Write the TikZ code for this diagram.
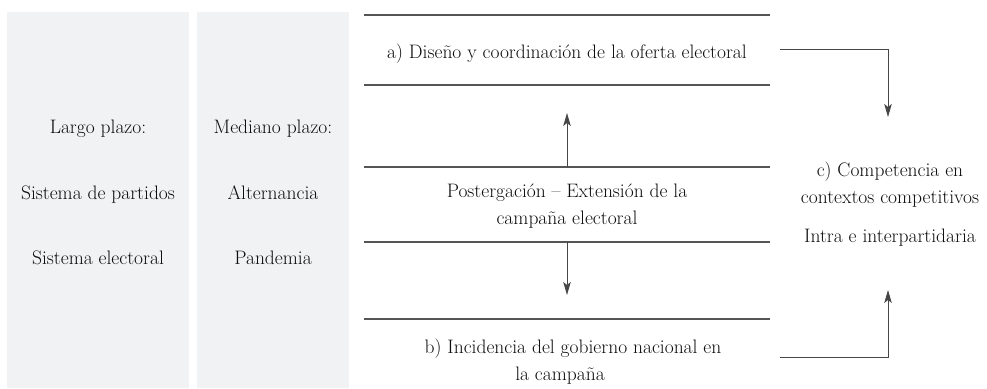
\documentclass[tikz,border=0pt]{standalone}
\usepackage{fontspec}
\usetikzlibrary{arrows.meta}
\definecolor{panelgray}{RGB}{241,242,244}
\definecolor{rulegray}{RGB}{85,85,85}
\definecolor{conngray}{RGB}{70,70,70}
\tikzset{
  panel/.style={fill=panelgray,draw=none},
  rule/.style={draw=rulegray,line width=1.6pt},
  conn/.style={draw=conngray,line width=0.8pt,-{Stealth[length=13pt,width=7.5pt,inset=3pt]}},
  lbl/.style={inner sep=0pt,align=center,font=\fontsize{19.5}{27}\selectfont,text=black!95}
}

\begin{document}
\begin{tikzpicture}[x=1pt,y=-1pt]
      \useasboundingbox (0,0) rectangle (987,388);
      \begin{scope}
        \fill[panel] (7,12) rectangle (189,388);
        \fill[panel] (197,12) rectangle (349,388);
      \end{scope}
      \foreach \y in {15,85,167,242,319}
        \draw[rule] (364,\y) -- (770,\y);
      \node[lbl,anchor=base] (largo) at (98,133) {Largo plazo:};
      \node[lbl,anchor=base] (partidos) at (98,199) {Sistema de partidos};
      \node[lbl,anchor=base] (electoral) at (98,264) {Sistema electoral};
      \node[lbl,anchor=base] (mediano) at (273,133) {Mediano plazo:};
      \node[lbl,anchor=base] (alternancia) at (273,199) {Alternancia};
      \node[lbl,anchor=base] (pandemia) at (273,264) {Pandemia};
      \node[lbl,anchor=base] (oferta) at (567,58) {a) Diseño y coordinación de la oferta electoral};
      \node[lbl,anchor=base] (postergacion) at (567,224) {Postergación -- Extensión de la\\campaña electoral};
      \node[lbl,anchor=base] (gobierno) at (573,380) {b) Incidencia del gobierno nacional en\\la campaña\hspace*{26pt}};
      \node[lbl,anchor=base] (competencia) at (890,203) {c) Competencia en\\contextos competitivos};
      \node[lbl,anchor=base] (intra) at (890,242) {Intra e interpartidaria};
      \coordinate (upfoot) at (567,167);
      \coordinate (uptip) at (567,113);
      \coordinate (downfoot) at (567,242);
      \coordinate (downtip) at (567,295);
      \coordinate (ofertaout) at (780,49);
      \coordinate (compin) at (888,117);
      \coordinate (gobiernoout) at (780,357);
      \coordinate (intrain) at (888,290);
      \draw[conn] (upfoot) -- (uptip);
      \draw[conn] (downfoot) -- (downtip);
      \draw[conn] (ofertaout) -| (compin);
      \draw[conn] (gobiernoout) -| (intrain);
  \end{tikzpicture}
\end{document}
